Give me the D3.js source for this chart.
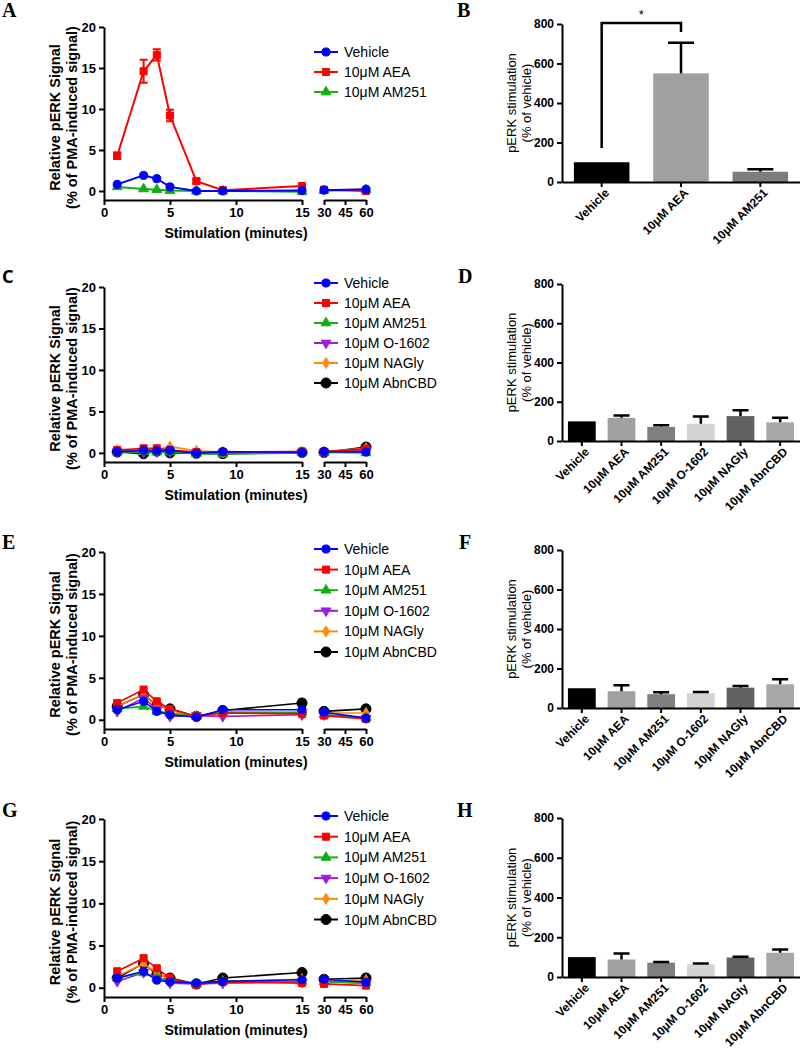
<!DOCTYPE html>
<html><head><meta charset="utf-8">
<script src="https://cdn.jsdelivr.net/npm/d3@7"></script>
<style>body{margin:0;background:#fff}svg{display:block}</style>
</head><body>
<svg id="chart" width="800" height="1048"></svg>
<script>
// ---------- DATA ----------
const times = [1, 3, 4, 5, 7, 9, 15, 30, 60];
const seriesNames = ["Vehicle", "10μM AEA", "10μM AM251", "10μM O-1602", "10μM NAGly", "10μM AbnCBD"];
const yTicksLine = [0, 5, 10, 15, 20];
const xTicksEarly = [0, 5, 10, 15];
const xTicksLate = [30, 45, 60];

// Panel A
const aVehicle = [0.8, 1.9, 1.5, 0.5, 0.0, 0.0, 0.05, 0.1, 0.2];
const aAEA = [4.3, 14.6, 16.6, 9.2, 1.2, 0.1, 0.6, 0.15, 0.0];
const aAEAErr = [0.4, 1.4, 0.7, 0.7, 0.25, 0.1, 0.15, 0.1, 0.1];
const aAM251 = [0.5, 0.25, 0.15, 0.05, 0.0, 0.0, -0.1, 0.05, 0.15];

// Panel C
const cVehicle = [0.15, 0.3, 0.25, 0.3, -0.05, 0.15, 0.05, 0.15, 0.1];
const cAEA = [0.35, 0.55, 0.55, 0.35, 0.1, 0.1, 0.15, 0.15, 0.5];
const cAM251 = [0.1, 0.15, 0.1, 0.1, -0.1, -0.15, 0.0, 0.05, 0.0];
const cO1602 = [0.15, 0.1, 0.15, 0.15, 0.0, 0.0, 0.05, 0.1, 0.3];
const cNAGly = [0.3, 0.4, 0.4, 0.75, 0.25, 0.1, 0.15, 0.15, 0.55];
const cAbnCBD = [0.1, -0.1, 0.2, 0.0, -0.05, -0.1, 0.05, 0.05, 0.7];

// Panel E
const eVehicle = [1.2, 2.2, 1.0, 0.6, 0.3, 1.2, 1.2, 0.9, 0.2];
const eAEA = [2.0, 3.6, 2.2, 1.3, 0.4, 0.8, 0.7, 0.5, 0.1];
const eAM251 = [1.3, 1.6, 1.0, 0.8, 0.4, 0.9, 0.9, 0.6, 0.2];
const eO1602 = [1.0, 2.6, 1.2, 0.4, 0.5, 0.4, 0.6, 0.6, 0.2];
const eNAGly = [1.6, 3.0, 1.8, 1.1, 0.4, 0.9, 0.8, 0.8, 0.8];
const eAbnCBD = [1.6, 3.0, 1.7, 1.3, 0.4, 1.1, 2.0, 1.0, 1.3];
const eAbnCBDErr = [0, 0, 0, 0, 0, 0, 0.4, 0, 0];

// Panel G
const gVehicle = [1.15, 1.95, 0.9, 0.7, 0.55, 0.75, 0.95, 1.0, 0.65];
const gAEA = [1.95, 3.5, 2.3, 1.15, 0.35, 0.7, 0.55, 0.45, 0.25];
const gAM251 = [1.15, 1.75, 1.15, 0.9, 0.45, 0.75, 0.75, 0.7, 0.55];
const gO1602 = [0.75, 1.8, 1.15, 0.55, 0.45, 0.55, 0.65, 0.75, 0.55];
const gNAGly = [1.35, 2.85, 1.75, 0.95, 0.45, 0.75, 1.0, 0.9, 0.9];
const gAbnCBD = [1.15, 2.9, 1.55, 1.15, 0.45, 1.15, 1.8, 1.0, 1.15];
const gAbnCBDErr = [0, 0, 0, 0, 0, 0, 0.3, 0, 0];

// Bar panels
const yTicksBar = [0, 200, 400, 600, 800];
const bCats = ["Vehicle", "10μM AEA", "10μM AM251"];
const bVals = [100, 550, 52];
const bErr = [0, 155, 13];
const barCats = ["Vehicle", "10μM AEA", "10μM AM251", "10μM O-1602", "10μM NAGly", "10μM AbnCBD"];
const dVals = [100, 118, 72, 88, 127, 95];
const dErr = [0, 12, 8, 37, 30, 23];
const fVals = [100, 85, 70, 75, 103, 120];
const fErr = [0, 30, 10, 6, 9, 25];
const hVals = [100, 88, 72, 63, 98, 122];
const hErr = [0, 30, 3, 5, 4, 16];

// ---------- STYLE ----------
const colors = ["#0000ff", "#ff0000", "#10b010", "#9b1fd6", "#ff8a00", "#000000"];
const shapes = ["circle", "square", "tri", "triDown", "diamond", "bigCircle"];
const barColors6 = ["#000000", "#a0a0a0", "#7f7f7f", "#d4d4d4", "#626262", "#a8a8a8"];
const barColors3 = ["#000000", "#a0a0a3", "#7d7d7d"];
const FONT = "'Liberation Sans', Arial, sans-serif";

const svg = d3.select("#chart");
svg.append("rect").attr("width", 800).attr("height", 1048).attr("fill", "#fff");

function symbolPath(shape) {
  const map = {
    circle: [d3.symbolCircle, 52],
    square: [d3.symbolSquare, 50],
    tri: [d3.symbolTriangle, 42],
    triDown: [d3.symbolTriangle, 42],
    diamond: [d3.symbolDiamond, 36],
    bigCircle: [d3.symbolCircle, 80]
  };
  const [t, s] = map[shape];
  return d3.symbol().type(t).size(s)();
}
function drawSymbol(g, shape, color, x, y) {
  g.append("path").attr("d", symbolPath(shape))
    .attr("transform", `translate(${x},${y})` + (shape === "triDown" ? " rotate(180)" : ""))
    .attr("fill", color).attr("stroke", color).attr("stroke-width", 1);
}

function styleAxis(g, fs) {
  g.selectAll("path,line").attr("stroke", "#000").attr("stroke-width", 2);
  g.selectAll("text").attr("font-family", FONT).attr("font-weight", "bold")
    .attr("font-size", fs).attr("fill", "#000");
}

function linePanel(cfg) {
  const g = svg.append("g");
  const y = d3.scaleLinear().domain([-1.1, 20]).range([cfg.bottom, cfg.top]);
  const x1 = d3.scaleLinear().domain([0, 15]).range([104, 302]);
  const x2 = d3.scaleLinear().domain([30, 60]).range([324, 366]);
  const xp = t => (t <= 15 ? x1(t) : x2(t));

  const ya = g.append("g").attr("transform", "translate(104,0)")
    .call(d3.axisLeft(y).tickValues(yTicksLine).tickSize(5).tickSizeOuter(0));
  styleAxis(ya, 13);
  const xa1 = g.append("g").attr("transform", `translate(0,${cfg.bottom})`)
    .call(d3.axisBottom(x1).tickValues(xTicksEarly).tickSize(5).tickSizeOuter(0));
  styleAxis(xa1, 13);
  const xa2 = g.append("g").attr("transform", `translate(0,${cfg.bottom})`)
    .call(d3.axisBottom(x2).tickValues(xTicksLate).tickSize(5).tickSizeOuter(0));
  styleAxis(xa2, 13);

  // titles
  const cy = (cfg.top + cfg.bottom) / 2 + 4;
  g.append("text").attr("transform", `translate(60,${cy}) rotate(-90)`)
    .attr("text-anchor", "middle").attr("font-family", FONT).attr("font-weight", "bold")
    .attr("font-size", 14.5).text("Relative pERK Signal");
  g.append("text").attr("transform", `translate(77,${cy}) rotate(-90)`)
    .attr("text-anchor", "middle").attr("font-family", FONT).attr("font-weight", "bold")
    .attr("font-size", 14.5).text("(% of PMA-induced signal)");
  g.append("text").attr("x", 236).attr("y", cfg.bottom + 38).attr("text-anchor", "middle")
    .attr("font-family", FONT).attr("font-weight", "bold").attr("font-size", 14)
    .text("Stimulation (minutes)");

  // series (draw reversed so Vehicle ends on top)
  const line = d3.line().x(d => xp(d.t)).y(d => y(d.v));
  const order = cfg.series.map((s, i) => i).reverse();
  order.forEach(i => {
    const s = cfg.series[i];
    const pts = times.map((t, k) => ({ t, v: s.values[k], e: s.err ? s.err[k] : 0 }));
    const sg = g.append("g");
    [pts.filter(p => p.t <= 15), pts.filter(p => p.t > 15)].forEach(seg => {
      sg.append("path").datum(seg).attr("d", line).attr("fill", "none")
        .attr("stroke", colors[i]).attr("stroke-width", cfg.lw);
    });
    pts.filter(p => p.e > 0).forEach(p => {
      const xx = xp(p.t);
      sg.append("path")
        .attr("d", `M${xx},${y(p.v - p.e)}V${y(p.v + p.e)}M${xx - 4},${y(p.v + p.e)}H${xx + 4}M${xx - 4},${y(p.v - p.e)}H${xx + 4}`)
        .attr("stroke", colors[i]).attr("stroke-width", 2).attr("fill", "none");
    });
    pts.forEach(p => drawSymbol(sg, shapes[i], colors[i], xp(p.t), y(p.v)));
  });

  // legend
  cfg.series.forEach((s, i) => {
    const ly = cfg.legY + i * cfg.legStep;
    g.append("line").attr("x1", 314).attr("x2", 338).attr("y1", ly).attr("y2", ly)
      .attr("stroke", colors[i]).attr("stroke-width", 2);
    drawSymbol(g, shapes[i], colors[i], 326, ly);
    g.append("text").attr("x", 344).attr("y", ly + 5).attr("font-family", FONT)
      .attr("font-size", 14).text(seriesNames[i]);
  });
}

function barPanel(cfg) {
  const g = svg.append("g");
  const y = d3.scaleLinear().domain([0, 800]).range([cfg.zero, cfg.top]);
  const x = d3.scaleBand().domain(cfg.cats).range([562, 800]).paddingInner(0.3).paddingOuter(0.15);
  const ya = g.append("g").attr("transform", "translate(562,0)")
    .call(d3.axisLeft(y).tickValues(yTicksBar).tickSize(5).tickSizeOuter(0));
  styleAxis(ya, 12);

  cfg.cats.forEach((c, i) => {
    g.append("rect").attr("x", x(c)).attr("y", y(cfg.vals[i])).attr("width", x.bandwidth())
      .attr("height", y(0) - y(cfg.vals[i])).attr("fill", cfg.colors[i]);
    if (cfg.errs[i] > 0) {
      const cx = x(c) + x.bandwidth() / 2, ye = y(cfg.vals[i] + cfg.errs[i]);
      g.append("path").attr("d", `M${cx},${y(cfg.vals[i])}V${ye}M${cx - cfg.cap},${ye}H${cx + cfg.cap}`)
        .attr("stroke", "#000").attr("stroke-width", 2.5).attr("fill", "none");
    }
  });

  const xa = g.append("g").attr("transform", `translate(0,${cfg.zero})`)
    .call(d3.axisBottom(x).tickSize(5).tickSizeOuter(0));
  styleAxis(xa, 12);
  xa.selectAll("text").attr("text-anchor", "end").attr("dx", "-0.2em").attr("dy", "0.5em")
    .attr("transform", "rotate(-45)");

  const cy = (cfg.top + cfg.zero) / 2;
  g.append("text").attr("transform", `translate(516,${cy}) rotate(-90)`).attr("text-anchor", "middle")
    .attr("font-family", FONT).attr("font-size", 13).text("pERK stimulation");
  g.append("text").attr("transform", `translate(531,${cy}) rotate(-90)`).attr("text-anchor", "middle")
    .attr("font-family", FONT).attr("font-size", 13).text("(% of vehicle)");
  return { g, x, y };
}

function mk(vals, errs) {
  return vals.map((v, i) => ({ values: v, err: errs ? errs[i] : null }));
}

// ---------- PANELS ----------
linePanel({ top: 27, bottom: 200, lw: 2, legY: 52, legStep: 20,
  series: mk([aVehicle, aAEA, aAM251], [null, aAEAErr, null]) });
linePanel({ top: 287, bottom: 462, lw: 1.6, legY: 283, legStep: 20,
  series: mk([cVehicle, cAEA, cAM251, cO1602, cNAGly, cAbnCBD]) });
linePanel({ top: 552, bottom: 729, lw: 1.6, legY: 549, legStep: 20.6,
  series: mk([eVehicle, eAEA, eAM251, eO1602, eNAGly, eAbnCBD], [null, null, null, null, null, eAbnCBDErr]) });
linePanel({ top: 819, bottom: 997, lw: 1.6, legY: 816, legStep: 20.7,
  series: mk([gVehicle, gAEA, gAM251, gO1602, gNAGly, gAbnCBD], [null, null, null, null, null, gAbnCBDErr]) });

const B = barPanel({ top: 24, zero: 182, cats: bCats, vals: bVals, errs: bErr, colors: barColors3, cap: 13 });
{
  const x = B.x, y = B.y, h = x.bandwidth() / 2;
  const x0 = x(bCats[0]) + h, x1 = x(bCats[1]) + h;
  B.g.append("path").attr("d", `M${x0},${y(172)}V${y(805)}H${x1}V${y(760)}`)
    .attr("stroke", "#000").attr("stroke-width", 2.5).attr("fill", "none");
  B.g.append("text").attr("x", (x0 + x1) / 2).attr("y", 19).attr("text-anchor", "middle")
    .attr("font-family", FONT).attr("font-size", 13).text("*");
}
barPanel({ top: 284, zero: 441, cats: barCats, vals: dVals, errs: dErr, colors: barColors6, cap: 8 });
barPanel({ top: 550, zero: 708, cats: barCats, vals: fVals, errs: fErr, colors: barColors6, cap: 8 });
barPanel({ top: 818, zero: 977, cats: barCats, vals: hVals, errs: hErr, colors: barColors6, cap: 8 });

// Panel letters
const letters = [["A", 2, 17, "serif"], ["B", 457, 17, "serif"], ["C", 2, 283, "sans"],
  ["D", 458, 283, "serif"], ["E", 2, 549, "serif"], ["F", 459, 549, "serif"],
  ["G", 2, 817, "serif"], ["H", 457, 817, "serif"]];
letters.forEach(([t, x, yy, f]) => {
  svg.append("text").attr("x", x).attr("y", yy)
    .attr("font-family", f === "serif" ? "'Liberation Serif', 'DejaVu Serif', serif" : "'Noto Sans', sans-serif")
    .attr("font-weight", "bold").attr("font-size", f === "serif" ? 20 : 18).text(t);
});
</script>
</body></html>
